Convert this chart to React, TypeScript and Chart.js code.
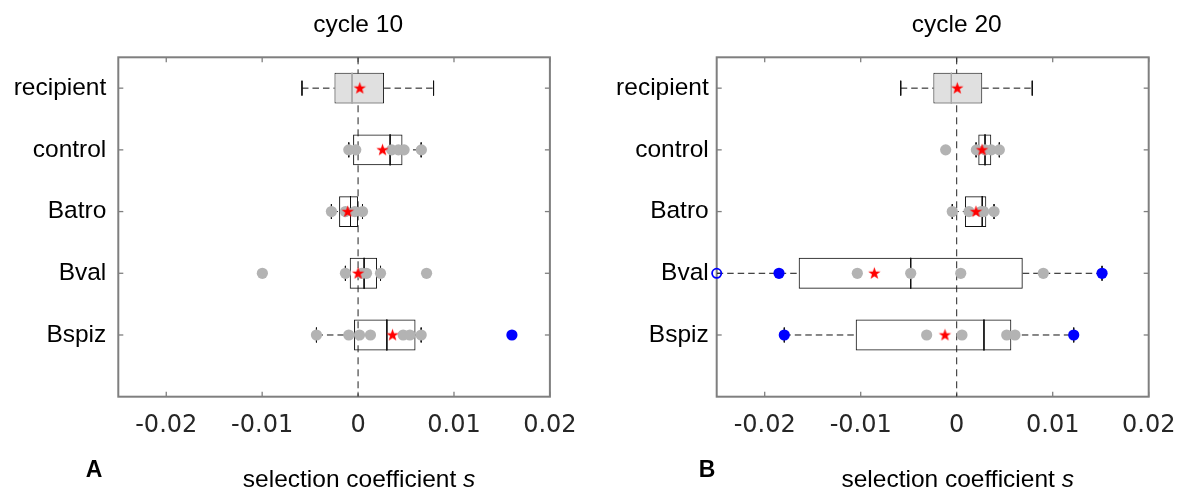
import React, { useEffect, useRef } from "react";
import { Chart, registerables } from "chart.js";

Chart.register(...registerables);

// ---------- data ----------
const CATEGORIES = ["recipient", "control", "Batro", "Bval", "Bspiz"];
const X_MIN = -0.025;
const X_MAX = 0.02;
const X_TICKS = [-0.02, -0.01, 0, 0.01, 0.02];
const X_TICK_LABELS = ["-0.02", "-0.01", "0", "0.01", "0.02"];
const PANEL_TITLES = ["cycle 10", "cycle 20"];
const PANEL_LETTERS = ["A", "B"];
const X_TITLE_MAIN = "selection coefficient ";
const X_TITLE_VAR = "s";

// cycle 10
const C10_Q1 = [-0.00246, -0.00052, -0.00198, -0.00087, -0.00042];
const C10_Q3 = [0.00271, 0.00463, 0.0, 0.00198, 0.00599];
const C10_MEDIAN = [-0.00063, 0.00334, -0.00079, 0.00063, 0.003];
const C10_WHISKER_LO = [-0.00585, -0.00097, -0.00278, -0.00132, -0.00434];
const C10_WHISKER_HI = [0.00787, 0.00658, 0.00046, 0.00234, 0.00658];
const C10_MEAN = [0.00018, 0.00255, -0.00108, 0.0, 0.00359];
const C10_REPLICATES = [
  [],
  [-0.00097, -0.00024, 0.0035, 0.0042, 0.0048, 0.0066],
  [-0.00278, -0.00132, -0.00034, 0.00046],
  [-0.00998, -0.00132, 0.00038, 0.00088, 0.00234, 0.00714],
  [-0.00434, -0.00097, 0.00015, 0.00129, 0.0047, 0.0054, 0.00658],
];
const C10_HIGHLIGHTED = [[], [], [], [], [0.01604]];
const C10_OFFSCALE = [[], [], [], [], []];

// cycle 20
const C20_Q1 = [-0.00243, 0.00225, 0.00086, -0.01646, -0.01052];
const C20_Q3 = [0.00266, 0.0036, 0.00308, 0.00688, 0.00569];
const C20_MEDIAN = [-0.00056, 0.00295, 0.00266, -0.00479, 0.00284];
const C20_WHISKER_LO = [-0.00583, 0.00202, -0.00046, -0.025, -0.01796];
const C20_WHISKER_HI = [0.00787, 0.00444, 0.00389, 0.01514, 0.01219];
const C20_MEAN = [0.00006, 0.00264, 0.00201, -0.00858, -0.00122];
const C20_REPLICATES = [
  [],
  [-0.00115, 0.00205, 0.00295, 0.0036, 0.00444],
  [-0.00046, 0.00128, 0.00255, 0.0028, 0.00389],
  [-0.01035, -0.00479, 0.00042, 0.00902],
  [-0.00313, 0.00055, 0.00521, 0.00607],
];
const C20_HIGHLIGHTED = [[], [], [], [-0.01851, 0.01514], [-0.01796, 0.01219]];
const C20_OFFSCALE = [[], [], [], [-0.025], []];

// ---------- helpers ----------
type PanelData = {
  q1: number[];
  q3: number[];
  median: number[];
  wLo: number[];
  wHi: number[];
  mean: number[];
  reps: number[][];
  hi: number[][];
  off: number[][];
};

const BOX_HALF = 0.25; // half box height in category units
const CAP_HALF = 0.12;
const LABEL_FONT = '"Liberation Sans", Arial, sans-serif';

let starImg: HTMLCanvasElement | null = null;
function getStar(): HTMLCanvasElement {
  if (starImg) return starImg;
  const c = document.createElement("canvas");
  c.width = 15;
  c.height = 15;
  const g = c.getContext("2d")!;
  const cx = 7.5,
    cy = 7.8,
    R = 6.5,
    r = 2.6;
  g.beginPath();
  for (let k = 0; k < 10; k++) {
    const ang = -Math.PI / 2 + (k * Math.PI) / 5;
    const rad = k % 2 === 0 ? R : r;
    const px = cx + rad * Math.cos(ang);
    const py = cy + rad * Math.sin(ang);
    if (k === 0) g.moveTo(px, py);
    else g.lineTo(px, py);
  }
  g.closePath();
  g.fillStyle = "#ff0000";
  g.fill();
  starImg = c;
  return c;
}

const gap = () => ({ x: null as any, y: null as any });

function pointsOf(arrs: number[][]) {
  const out: any[] = [];
  arrs.forEach((vals, i) => vals.forEach((v) => out.push({ x: v, y: i + 1 })));
  return out;
}

function makeDecor(title: string, letter: string, letterX: number) {
  return {
    id: "panelDecor",
    beforeDatasetsDraw(chart: any) {
      const { ctx, chartArea: a, scales } = chart;
      const xs = scales.x;
      const ys = scales.y;
      ctx.save();
      ctx.strokeStyle = "#7f7f7f";
      ctx.lineWidth = 1.3;
      const seg = (x1: number, y1: number, x2: number, y2: number) => {
        ctx.beginPath();
        ctx.moveTo(x1, y1);
        ctx.lineTo(x2, y2);
        ctx.stroke();
      };
      X_TICKS.forEach((v) => {
        const px = xs.getPixelForValue(v);
        seg(px, a.top, px, a.top + 5);
        seg(px, a.bottom, px, a.bottom - 5);
      });
      CATEGORIES.forEach((_, i) => {
        const py = ys.getPixelForValue(i + 1);
        seg(a.left, py, a.left + 5, py);
        seg(a.right, py, a.right - 5, py);
      });
      ctx.lineWidth = 2;
      ctx.strokeRect(a.left, a.top, a.right - a.left, a.bottom - a.top);
      ctx.restore();
    },
    afterDraw(chart: any) {
      const { ctx, scales } = chart;
      const x0 = scales.x.getPixelForValue(0);
      ctx.save();
      ctx.fillStyle = "#000";
      ctx.textBaseline = "alphabetic";
      ctx.font = `24.5px ${LABEL_FONT}`;
      ctx.textAlign = "center";
      ctx.fillText(title, x0, 31.5);
      // x-axis title with italic variable
      const wMain = ctx.measureText(X_TITLE_MAIN).width;
      ctx.font = `italic 24.5px ${LABEL_FONT}`;
      const wVar = ctx.measureText(X_TITLE_VAR).width;
      const start = x0 + 1 - (wMain + wVar) / 2;
      ctx.textAlign = "left";
      ctx.font = `24.5px ${LABEL_FONT}`;
      ctx.fillText(X_TITLE_MAIN, start, 487);
      ctx.font = `italic 24.5px ${LABEL_FONT}`;
      ctx.fillText(X_TITLE_VAR, start + wMain, 487);
      // panel letter
      ctx.font = `bold 23px ${LABEL_FONT}`;
      ctx.textAlign = "center";
      ctx.fillText(letter, letterX, 477);
      ctx.restore();
    },
  };
}

type Layout = {
  axisWidth: number;
  padRight: number;
  labelGap: number;
  letterX: number;
};

function buildConfig(d: PanelData, title: string, letter: string, L: Layout): any {
  const n = CATEGORIES.length;

  const boxes = CATEGORIES.map((_, i) => ({ x: [d.q1[i], d.q3[i]], y: i + 1 }));
  const boxFill = CATEGORIES.map((_, i) => (i === 0 ? "#e0e0e0" : "rgba(255,255,255,0)"));

  const whiskers: any[] = [];
  const caps: any[] = [];
  const medRef: any[] = [];
  const medOther: any[] = [];
  for (let i = 0; i < n; i++) {
    const y = i + 1;
    whiskers.push({ x: d.wLo[i], y }, { x: d.q1[i], y }, gap());
    whiskers.push({ x: d.q3[i], y }, { x: d.wHi[i], y }, gap());
    [d.wLo[i], d.wHi[i]].forEach((v) => {
      if (v > X_MIN && v < X_MAX) caps.push({ x: v, y: y - CAP_HALF }, { x: v, y: y + CAP_HALF }, gap());
    });
    const target = i === 0 ? medRef : medOther;
    target.push({ x: d.median[i], y: y - BOX_HALF }, { x: d.median[i], y: y + BOX_HALF }, gap());
  }

  const lineBase = {
    type: "line",
    pointRadius: 0,
    borderWidth: 1,
    spanGaps: false,
    fill: false,
  };

  const datasets: any[] = [
    {
      ...lineBase,
      data: [
        { x: 0, y: 0.5 },
        { x: 0, y: 6 },
      ],
      borderColor: "#222",
      borderDash: [7, 5],
      order: 20,
    },
    {
      type: "bar",
      data: boxes,
      backgroundColor: boxFill,
      borderColor: "#111",
      borderWidth: 1,
      borderSkipped: false,
      barPercentage: 0.5,
      categoryPercentage: 1,
      order: 10,
    },
    { ...lineBase, data: whiskers, borderColor: "#111", borderDash: [6.5, 4], order: 9 },
    { ...lineBase, data: caps, borderColor: "#111", order: 8 },
    { ...lineBase, data: medRef, borderColor: "#a8a8a8", order: 7 },
    { ...lineBase, data: medOther, borderColor: "#111", order: 7 },
    {
      type: "line",
      showLine: false,
      data: pointsOf(d.reps),
      pointRadius: 5.6,
      pointBorderWidth: 0,
      pointBackgroundColor: "#b3b3b3",
      pointBorderColor: "rgba(0,0,0,0)",
      clip: false,
      order: 5,
    },
    {
      type: "line",
      showLine: false,
      data: pointsOf(d.hi),
      pointRadius: 5.6,
      pointBorderWidth: 0,
      pointBackgroundColor: "#0000ff",
      pointBorderColor: "rgba(0,0,0,0)",
      clip: false,
      order: 4,
    },
    {
      type: "line",
      showLine: false,
      data: pointsOf(d.off),
      pointRadius: 4.6,
      pointBorderWidth: 1.8,
      pointBackgroundColor: "rgba(0,0,0,0)",
      pointBorderColor: "#0000ff",
      clip: false,
      order: 3,
    },
    {
      type: "line",
      showLine: false,
      data: d.mean.map((v, i) => ({ x: v, y: i + 1 })),
      pointRadius: 6,
      pointStyle: getStar(),
      clip: false,
      order: 1,
    },
  ];

  return {
    type: "bar",
    data: { datasets },
    options: {
      responsive: false,
      animation: false,
      devicePixelRatio: 1,
      events: [],
      indexAxis: "y",
      layout: { padding: { left: 0, right: L.padRight, top: 57.3, bottom: 491 - 396.7 - 70 } },
      plugins: {
        legend: { display: false },
        tooltip: { enabled: false },
        title: { display: false },
      },
      scales: {
        x: {
          type: "linear",
          position: "bottom",
          min: X_MIN,
          max: X_MAX,
          offset: false,
          grid: { display: false, drawTicks: false },
          border: { display: false },
          afterBuildTicks: (s: any) => {
            s.ticks = X_TICKS.map((v) => ({ value: v }));
          },
          afterFit: (s: any) => {
            s.height = 70;
            s.paddingLeft = 0;
            s.paddingRight = 0;
          },
          ticks: {
            autoSkip: false,
            maxRotation: 0,
            minRotation: 0,
            padding: 15,
            color: "#262626",
            font: { family: '"DejaVu Sans", sans-serif', size: 24 },
            callback: (_v: any, idx: number) => X_TICK_LABELS[idx],
          },
        },
        y: {
          type: "linear",
          position: "left",
          min: 0.5,
          max: 6,
          reverse: true,
          offset: false,
          grid: { display: false, drawTicks: false, offset: false },
          border: { display: false },
          afterBuildTicks: (s: any) => {
            s.ticks = CATEGORIES.map((_, i) => ({ value: i + 1 }));
          },
          afterFit: (s: any) => {
            s.width = L.axisWidth;
            s.paddingTop = 0;
            s.paddingBottom = 0;
          },
          ticks: {
            autoSkip: false,
            padding: L.labelGap,
            color: "#000",
            font: { family: LABEL_FONT, size: 24.5 },
            callback: (v: any) => CATEGORIES[Math.round(v) - 1] ?? "",
          },
        },
      },
    },
    plugins: [makeDecor(title, letter, L.letterX)],
  };
}

const PANEL_10: PanelData = {
  q1: C10_Q1,
  q3: C10_Q3,
  median: C10_MEDIAN,
  wLo: C10_WHISKER_LO,
  wHi: C10_WHISKER_HI,
  mean: C10_MEAN,
  reps: C10_REPLICATES,
  hi: C10_HIGHLIGHTED,
  off: C10_OFFSCALE,
};
const PANEL_20: PanelData = {
  q1: C20_Q1,
  q3: C20_Q3,
  median: C20_MEDIAN,
  wLo: C20_WHISKER_LO,
  wHi: C20_WHISKER_HI,
  mean: C20_MEAN,
  reps: C20_REPLICATES,
  hi: C20_HIGHLIGHTED,
  off: C20_OFFSCALE,
};

function Panel(props: { left: number; width: number; data: PanelData; title: string; letter: string; layout: Layout }) {
  const ref = useRef<HTMLCanvasElement>(null);
  useEffect(() => {
    const chart = new Chart(ref.current!, buildConfig(props.data, props.title, props.letter, props.layout));
    return () => chart.destroy();
  }, []);
  return (
    <canvas
      ref={ref}
      width={props.width}
      height={491}
      style={{ position: "absolute", left: props.left, top: 0, width: props.width, height: 491 }}
    />
  );
}

export default function App() {
  return (
    <div style={{ position: "absolute", left: 0, top: 0, width: 1184, height: 491, background: "#fff", overflow: "hidden" }}>
      <Panel
        left={0}
        width={600}
        data={PANEL_10}
        title={PANEL_TITLES[0]}
        letter={PANEL_LETTERS[0]}
        layout={{ axisWidth: 118.3, padRight: 600 - 549.9, labelGap: 12, letterX: 94 }}
      />
      <Panel
        left={600}
        width={584}
        data={PANEL_20}
        title={PANEL_TITLES[1]}
        letter={PANEL_LETTERS[1]}
        layout={{ axisWidth: 116.7, padRight: 584 - 548.7, labelGap: 8, letterX: 107 }}
      />
    </div>
  );
}
